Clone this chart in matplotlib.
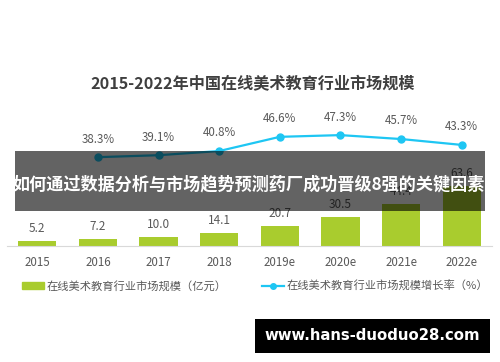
import matplotlib
matplotlib.use("Agg")
import matplotlib.pyplot as plt
from matplotlib.patches import Rectangle
from matplotlib.lines import Line2D

plt.rcParams['font.family'] = ['Noto Sans CJK SC', 'DejaVu Sans']

# --- data ---
years = ["2015", "2016", "2017", "2018", "2019e", "2020e", "2021e", "2022e"]
market_size = [5.2, 7.2, 10.0, 14.1, 20.7, 30.5, 44.4, 63.6]   # 亿元
growth_years = years[1:]
growth_rate = [38.3, 39.1, 40.8, 46.6, 47.3, 45.7, 43.3]          # %

bar_color = "#a9cc2e"
line_color = "#1ec6f3"
text_gray = "#595959"

W, H = 500, 362
fig = plt.figure(figsize=(W / 100, H / 100), dpi=100)

# axes placed in pixel terms: x 7..492, baseline at y=246, top at y=60
ax = fig.add_axes([7 / W, 1 - 246 / H, 485 / W, 186 / H])
x = list(range(len(years)))
bars = ax.bar(x, market_size, width=0.63, color=bar_color, zorder=2)
ax.set_xlim(-0.5, len(years) - 0.5)
ax.set_ylim(0, 196)
for xi, v in zip(x, market_size):
    ax.annotate(f"{v:.1f}", (xi, v), xytext=(0, 9), textcoords="offset points",
                ha="center", va="center", fontsize=8.5, color=text_gray)

for s in ["top", "left", "right"]:
    ax.spines[s].set_visible(False)
ax.spines["bottom"].set_color("#d9d9d9")
ax.set_yticks([])
ax.set_xticks(x)
ax.set_xticklabels(years, fontsize=8.3, color=text_gray)
ax.tick_params(axis="x", length=0, pad=7.5)

ax2 = ax.twinx()
ax2.set_ylim(2.04, 77.96)
gx = [years.index(y) for y in growth_years]
ax2.plot(gx, growth_rate, color=line_color, lw=1.6, marker="o", ms=5, zorder=3)
for xi, v in zip(gx, growth_rate):
    ax2.annotate(f"{v:.1f}%", (xi, v), xytext=(0, 13), textcoords="offset points",
                 ha="center", va="center", fontsize=8.3, color=text_gray)
ax2.axis("off")

fig.text(253 / W, 1 - 84 / H, "2015-2022年中国在线美术教育行业市场规模",
         ha="center", va="center", fontsize=11.6, fontweight="bold", color="#3f3f3f")

handles = [Rectangle((0, 0), 1, 1, color=bar_color),
           Line2D([], [], color=line_color, lw=1.6, marker="o", ms=4)]
fig.legend(handles, ["在线美术教育行业市场规模（亿元）", "在线美术教育行业市场规模增长率（%）"],
           loc="center", bbox_to_anchor=(255 / W, 1 - 286 / H), ncol=2, frameon=False,
           fontsize=8.1, labelcolor=text_gray, handlelength=1.95, handleheight=0.6,
           handletextpad=0.2, columnspacing=3.2, borderpad=0)

# overlay banner
fig.patches.append(Rectangle((15 / W, 1 - 211 / H), 470 / W, 60 / H, transform=fig.transFigure,
                             facecolor="black", alpha=0.61, zorder=10, lw=0))
fig.text(249 / W, 1 - 184 / H, "如何通过数据分析与市场趋势预测药厂成功晋级8强的关键因素",
         ha="center", va="center", fontsize=12.3, fontweight="bold", color="white", zorder=11)

# watermark
fig.patches.append(Rectangle((255 / W, 1 - 353 / H), 235 / W, 34 / H, transform=fig.transFigure,
                             facecolor="black", zorder=10, lw=0))
fig.text(372 / W, 1 - 336 / H, "www.hans-duoduo28.com", ha="center", va="center",
         fontsize=10.7, fontweight="bold", color="white", family="DejaVu Sans", zorder=11)

fig.savefig("out.png", dpi=100)
